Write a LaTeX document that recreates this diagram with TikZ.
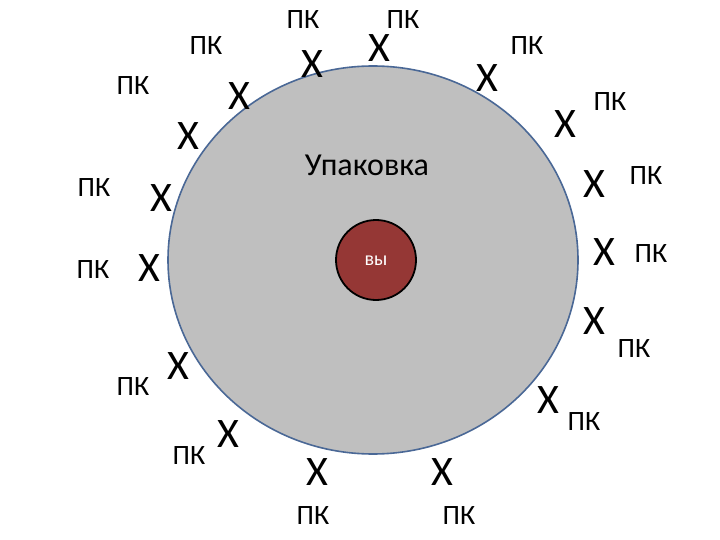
\documentclass[tikz,border=0pt]{standalone}
\usepackage{fontspec}
\setmainfont{Carlito}
\definecolor{pkfill}{HTML}{BFBFBF}
\definecolor{pkline}{HTML}{4A6896}
\definecolor{youred}{HTML}{953735}
\begin{document}
\begin{tikzpicture}[x=1pt,y=-1pt,
  xmark/.style={inner sep=0pt,font=\fontsize{42}{42}\selectfont},
  pk/.style={inner sep=0pt,font=\fontsize{28}{28}\selectfont}]
\useasboundingbox (0,0) rectangle (720,540);
\fill[white] (0,0) rectangle (720,540);
\draw[pkline,fill=pkfill,line width=1.6pt] (373,260) ellipse [x radius=205,y radius=194];
\node[circle,draw=black,line width=1.8pt,fill=youred,minimum size=80pt,inner sep=0pt] (you) at (376,260) {};
\node[white,font=\fontsize{20}{20}\selectfont] (youtxt) at (376,261) {вы};
\node[pk,font=\fontsize{32}{32}\selectfont] (pack) at (367,165) {Упаковка};
% X marks and labels
\node[xmark] (x1) at (312,64) {X};   \node[pk] (p1) at (303,20) {ПК};
\node[xmark] (x2) at (379,48) {X};   \node[pk] (p2) at (403,20) {ПК};
\node[xmark] (x3) at (487,78) {X};   \node[pk] (p3) at (527,46) {ПК};
\node[xmark] (x4) at (565,124) {X};  \node[pk] (p4) at (610,102) {ПК};
\node[xmark] (x5) at (594,184) {X};  \node[pk] (p5) at (646,176) {ПК};
\node[xmark] (x6) at (604,252) {X};  \node[pk] (p6) at (651,254) {ПК};
\node[xmark] (x7) at (594,321) {X};  \node[pk] (p7) at (634,349) {ПК};
\node[xmark] (x8) at (548,400) {X};  \node[pk] (p8) at (584,422) {ПК};
\node[xmark] (x9) at (442,472) {X};  \node[pk] (p9) at (459,516) {ПК};
\node[xmark] (x10) at (317,472) {X}; \node[pk] (p10) at (313,516) {ПК};
\node[xmark] (x11) at (228,434) {X}; \node[pk] (p11) at (189,456) {ПК};
\node[xmark] (x12) at (178,366) {X}; \node[pk] (p12) at (133,387) {ПК};
\node[xmark] (x13) at (149,268) {X}; \node[pk] (p13) at (93,270) {ПК};
\node[xmark] (x14) at (161,198) {X}; \node[pk] (p14) at (94,188) {ПК};
\node[xmark] (x15) at (188,136) {X}; \node[pk] (p15) at (133,86) {ПК};
\node[xmark] (x16) at (239,96) {X};  \node[pk] (p16) at (206,46) {ПК};
\end{tikzpicture}
\end{document}
